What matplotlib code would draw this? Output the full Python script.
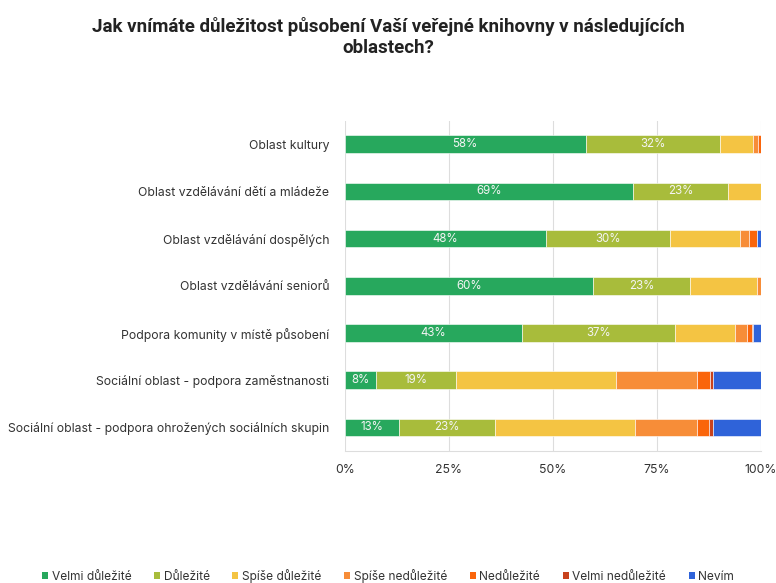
import numpy as np
import matplotlib.pyplot as plt
from matplotlib.patches import Patch

plt.rcParams['font.family'] = ['Inter', 'DejaVu Sans']

categories = [
    "Oblast kultury",
    "Oblast vzdělávání dětí a mládeže",
    "Oblast vzdělávání dospělých",
    "Oblast vzdělávání seniorů",
    "Podpora komunity v místě působení",
    "Sociální oblast - podpora zaměstnanosti",
    "Sociální oblast - podpora ohrožených sociálních skupin",
]

series_names = [
    "Velmi důležité", "Důležité", "Spíše důležité", "Spíše nedůležité",
    "Nedůležité", "Velmi nedůležité", "Nevím",
]

# shares in percent, one list per answer, in category order
velmi_dulezite = [57.9, 69.4, 48.3, 59.8, 42.6, 7.6, 13.1]
dulezite = [32.4, 22.8, 29.9, 23.1, 36.8, 19.1, 23.0]
spise_dulezite = [7.8, 7.8, 16.8, 16.1, 14.4, 38.5, 33.6]
spise_nedulezite = [1.2, 0.0, 2.3, 1.0, 3.0, 19.6, 15.1]
nedulezite = [0.7, 0.0, 1.7, 0.0, 1.0, 3.0, 2.8]
velmi_nedulezite = [0.0, 0.0, 0.0, 0.0, 0.4, 0.7, 0.9]
nevim = [0.0, 0.0, 1.0, 0.0, 1.8, 11.5, 11.5]

colors = ["#27a85d", "#a8bc3b", "#f4c443", "#f78d38", "#fa650b", "#c8421d", "#2f63d9"]

data = np.array([velmi_dulezite, dulezite, spise_dulezite, spise_nedulezite,
                 nedulezite, velmi_nedulezite, nevim])

fig = plt.figure(figsize=(7.76, 5.83), dpi=100)
ax = fig.add_axes([0.4442, 0.2264, 0.5361, 0.5666])

y = np.arange(len(categories))
left = np.zeros(len(categories))
for i, (name, vals) in enumerate(zip(series_names, data)):
    bars = ax.barh(y, vals, left=left, height=0.374, color=colors[i],
                   edgecolor="white", linewidth=0.4, label=name, zorder=3)
    # only the two leading answers carry value labels
    if i < 2:
        for b, v in zip(bars, vals):
            ax.text(b.get_x() + b.get_width() / 2, b.get_y() + b.get_height() / 2,
                    f"{round(v):.0f}%", ha="center", va="center",
                    color="#f4f4f4", fontsize=8.3, zorder=4)
    left += vals

ax.set_xlim(0, 100)
ax.set_ylim(len(categories) - 0.5, -0.5)
ax.set_xticks([0, 25, 50, 75, 100])
ax.set_xticklabels(["0%", "25%", "50%", "75%", "100%"])
ax.set_yticks(y)
ax.set_yticklabels(categories)
ax.tick_params(axis="both", length=0, labelsize=8.8, colors="#333333")
ax.tick_params(axis="x", pad=9)
ax.tick_params(axis="y", pad=11)
ax.grid(axis="x", color="#dddddd", linewidth=0.8, zorder=0)
for s in ["top", "right", "left"]:
    ax.spines[s].set_visible(False)
ax.spines["bottom"].set_color("#dddddd")

fig.text(0.5, 0.97, "Jak vnímáte důležitost působení Vaší veřejné knihovny v následujících\noblastech?",
         ha="center", va="top", fontsize=13.5, fontweight="bold", color="#222222",
         family=["Roboto", "DejaVu Sans"], linespacing=1.15)

handles = [Patch(facecolor=c, edgecolor="none") for c in colors]
fig.legend(handles, series_names, loc="lower center", bbox_to_anchor=(0.5, -0.018),
           ncol=7, frameon=False, fontsize=8.6, handlelength=0.5, handleheight=0.5,
           handletextpad=0.3, columnspacing=1.9, labelcolor="#333333")

fig.savefig("out.png", dpi=100)
